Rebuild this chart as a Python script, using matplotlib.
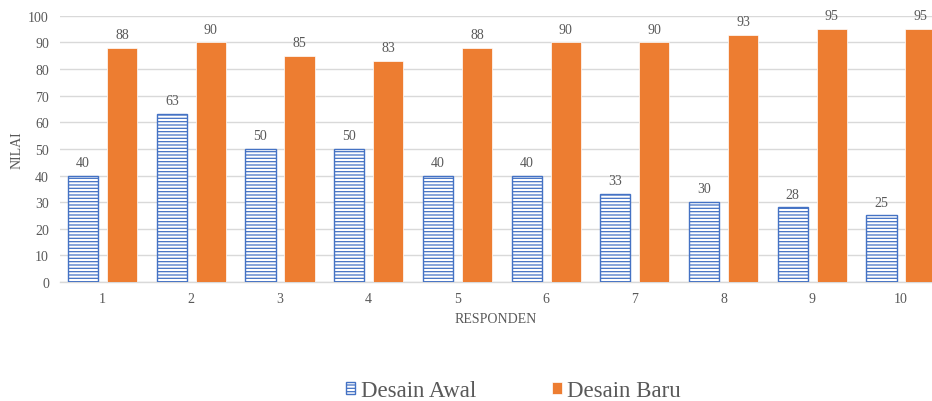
import matplotlib
matplotlib.use("Agg")
import matplotlib.pyplot as plt
import numpy as np

responden = ["1", "2", "3", "4", "5", "6", "7", "8", "9", "10"]
desain_awal = [40, 63, 50, 50, 40, 40, 33, 30, 28, 25]
desain_baru = [88, 90, 85, 83, 88, 90, 90, 93, 95, 95]

BLUE = "#4472C4"
ORANGE = "#ED7D31"
TEXT = "#595959"
GRID = "#D9D9D9"

plt.rcParams["font.family"] = ["Liberation Serif", "DejaVu Serif"]
plt.rcParams["hatch.linewidth"] = 0.9
plt.rcParams["hatch.color"] = BLUE

fig = plt.figure(figsize=(9.32, 4.02), dpi=100)
ax = fig.add_axes([0.0644, 0.296, 1.0 - 0.0644, 0.662])

x = np.arange(len(responden))
width = 0.34
off = 0.22

bars_awal = ax.bar(x - off, desain_awal, width, facecolor="white", edgecolor=BLUE,
                   linewidth=1.0, hatch="-----", label="Desain Awal", zorder=3)
bars_baru = ax.bar(x + off, desain_baru, width, color=ORANGE, edgecolor="white",
                   linewidth=0.5, label="Desain Baru", zorder=3)

for rect, v in zip(bars_awal, desain_awal):
    ax.annotate(f"{v}", (rect.get_x() + rect.get_width() / 2, v), xytext=(0, 5),
                textcoords="offset points", ha="center", va="bottom",
                fontsize=10, color=TEXT)
for rect, v in zip(bars_baru, desain_baru):
    ax.annotate(f"{v}", (rect.get_x() + rect.get_width() / 2, v), xytext=(0, 5),
                textcoords="offset points", ha="center", va="bottom",
                fontsize=10, color=TEXT)

ax.set_xlim(-0.48, 9.35)
ax.set_ylim(0, 100)
ax.set_yticks(np.arange(0, 101, 10))
ax.set_xticks(x)
ax.set_xticklabels(responden)
ax.tick_params(axis="both", length=0, labelsize=10, labelcolor=TEXT)
ax.tick_params(axis="x", pad=7)
ax.tick_params(axis="y", pad=8)

ax.grid(axis="y", color=GRID, linewidth=1.0, zorder=0)
for side in ["top", "right", "left"]:
    ax.spines[side].set_visible(False)
ax.spines["bottom"].set_color(GRID)
ax.spines["bottom"].set_linewidth(1.0)

ax.set_xlabel("RESPONDEN", fontsize=10, color=TEXT, labelpad=5)
ax.set_ylabel("NILAI", fontsize=10, color=TEXT, labelpad=3)

fig.legend(handles=[bars_awal, bars_baru], labels=["Desain Awal", "Desain Baru"],
           loc="center", bbox_to_anchor=(0.551, 0.026), ncol=2, frameon=False,
           prop={"family": ["Liberation Serif"], "size": 16.5}, labelcolor=TEXT,
           handlelength=0.42, handleheight=0.42, handletextpad=0.25,
           columnspacing=3.3)

fig.savefig("out.png", dpi=100)
